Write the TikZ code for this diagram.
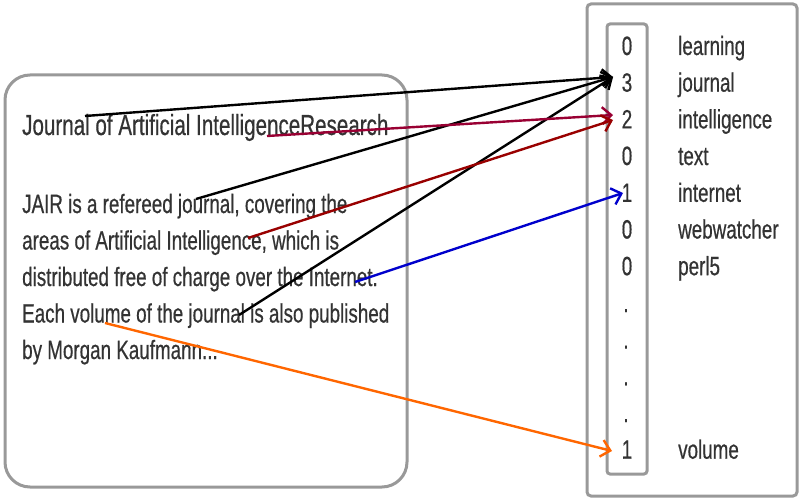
\documentclass[tikz,border=0pt]{standalone}
\usepackage{fontspec}
\setmainfont{Liberation Sans}[FakeStretch=0.71,FakeBold=0.5]
\usetikzlibrary{arrows.meta}
\definecolor{boxgray}{HTML}{999999}
\definecolor{txtgray}{HTML}{333333}
\definecolor{burg}{HTML}{990033}
\definecolor{dred}{HTML}{990000}
\definecolor{ablue}{HTML}{0000CC}
\definecolor{aorange}{HTML}{FF6600}
\tikzset{
  txt/.style={anchor=base west, inner sep=0pt, text=txtgray, font=\fontsize{26.5}{32}\selectfont},
  ttl/.style={txt, font=\fontsize{29}{34}\selectfont},
  num/.style={anchor=base, inner sep=0pt, text=txtgray, font=\fontsize{26.5}{32}\selectfont},
  link/.style={line width=2.4pt, -{Straight Barb[length=9pt,width=17pt]}},
  frame/.style={draw=boxgray, line width=3pt}
}
\begin{document}
\begin{tikzpicture}[x=1pt,y=-1pt]
\useasboundingbox (0,0) rectangle (800,500);
% boxes
\draw[frame, rounded corners=25pt] (5,75) rectangle (407,487);
\draw[frame, rounded corners=4pt] (587,4) rectangle (797,496);
\draw[frame, rounded corners=3pt] (607,24) rectangle (647,474);
% left text
\node[ttl] (title) at (22,135) {Journal of Artificial IntelligenceResearch};
\node[txt] (l1) at (22,213) {JAIR is a refereed journal, covering the};
\node[txt] (l2) at (22,249.5) {areas of Artificial Intelligence, which is};
\node[txt] (l3) at (22,286) {distributed free of charge over the Internet.};
\node[txt] (l4) at (22,322.5) {Each volume of the journal is also published};
\node[txt] (l5) at (22,359) {by Morgan Kaufmann...};
% right column
\node[num] (n0) at (627,55) {0};   \node[txt] (w0) at (678,55) {learning};
\node[num] (n1) at (627,91.7) {3}; \node[txt] (w1) at (678,91.7) {journal};
\node[num] (n2) at (627,128.4) {2};\node[txt] (w2) at (678,128.4) {intelligence};
\node[num] (n3) at (627,165) {0};  \node[txt] (w3) at (678,165) {text};
\node[num] (n4) at (627,201.8) {1};\node[txt] (w4) at (678,201.8) {internet};
\node[num] (n5) at (627,238.5) {0};\node[txt] (w5) at (678,238.5) {webwatcher};
\node[num] (n6) at (627,275.2) {0};\node[txt] (w6) at (678,275.2) {perl5};
\node[num] (d1) at (626,312) {.};
\node[num] (d2) at (626,348.6) {.};
\node[num] (d3) at (626,385.3) {.};
\node[num] (d4) at (626,422) {.};
\node[num] (n7) at (627,458.7) {1};\node[txt] (w7) at (678,458.7) {volume};
% connector points
\coordinate (s1) at (85,116);
\coordinate (s2) at (196,199);
\coordinate (s3) at (239,315);
\coordinate (s4) at (267,136);
\coordinate (s5) at (248,238);
\coordinate (s6) at (355,282);
\coordinate (s7) at (105,323);
\coordinate (tJ) at (613,77);
\coordinate (tI1) at (613,115);
\coordinate (tI2) at (613,120);
\coordinate (tN) at (623,193);
\coordinate (tV) at (612,451);
% connectors
\draw[link, black] (s1) -- (tJ);
\draw[link, black] (s2) -- (tJ);
\draw[link, black] (s3) -- (tJ);
\draw[link, burg] (s4) -- (tI1);
\draw[link, dred] (s5) -- (tI2);
\draw[link, ablue] (s6) -- (tN);
\draw[link, aorange] (s7) -- (tV);
\end{tikzpicture}
\end{document}
